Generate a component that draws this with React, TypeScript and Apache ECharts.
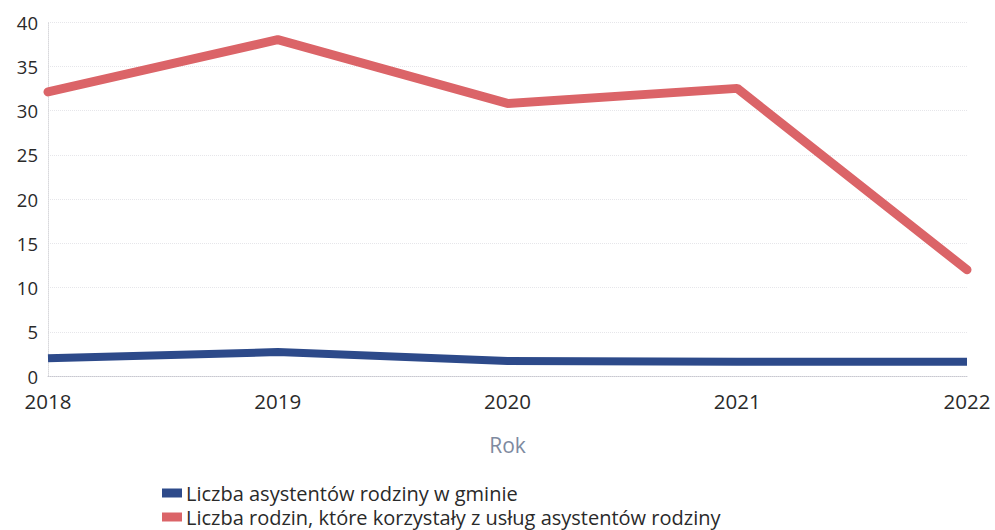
import React, { useEffect, useRef } from "react";
import * as echarts from "echarts";

const years = ["2018", "2019", "2020", "2021", "2022"];
const assistants = [2, 2.7, 1.7, 1.6, 1.6];
const families = [32.1, 38, 30.8, 32.5, 12];
const seriesNames = [
  "Liczba asystentów rodziny w gminie",
  "Liczba rodzin, które korzystały z usług asystentów rodziny",
];

export default function App() {
  const ref = useRef<HTMLDivElement>(null);
  useEffect(() => {
    if (!ref.current) return;
    const chart = echarts.init(ref.current, null, { renderer: "svg" });
    const font = "'Open Sans', 'Noto Sans', sans-serif";
    const legendBase = {
      orient: "horizontal",
      left: 162,
      padding: 0,
      itemWidth: 20,
      itemHeight: 9,
      itemGap: 4,
      icon: "rect",
      textStyle: { fontFamily: font, fontSize: 20, lineHeight: 22, color: "#2a2a2a", padding: [0, 0, 0, -1] },
    };
    chart.setOption({
      animation: false,
      backgroundColor: "#ffffff",
      textStyle: { fontFamily: font },
      grid: { left: 48, right: 28, top: 22, bottom: 154 },
      legend: [
        { ...legendBase, top: 482, data: [seriesNames[0]] },
        { ...legendBase, top: 506, data: [seriesNames[1]] },
      ],
      xAxis: {
        type: "category",
        data: years,
        boundaryGap: false,
        name: "Rok",
        nameLocation: "middle",
        nameGap: 58,
        nameTextStyle: { fontFamily: font, fontSize: 21, color: "#7e8aa0" },
        axisLine: { show: true, lineStyle: { color: "#c8c8d0", type: "dotted", width: 1 } },
        axisTick: { show: false },
        axisLabel: { fontFamily: font, fontSize: 20.5, color: "#2a2a2a", margin: 14 },
        splitLine: { show: false },
      },
      yAxis: {
        type: "value",
        min: 0,
        max: 40,
        interval: 5,
        axisLine: { show: true, lineStyle: { color: "#d8d8dc", type: "dotted", width: 1 } },
        axisTick: { show: false },
        axisLabel: { fontFamily: font, fontSize: 18.5, color: "#2a2a2a", margin: 10 },
        splitLine: { show: true, lineStyle: { color: "#e6e6ea", type: "dotted", width: 1 } },
      },
      series: [
        {
          name: seriesNames[0],
          type: "line",
          data: assistants,
          showSymbol: false,
          symbol: "none",
          itemStyle: { color: "#2d4a8a" },
          lineStyle: { color: "#2d4a8a", width: 8 },
        },
        {
          name: seriesNames[1],
          type: "line",
          data: families,
          showSymbol: false,
          symbol: "none",
          itemStyle: { color: "#db6468" },
          lineStyle: { color: "#db6468", width: 9, cap: "round" },
        },
      ],
    });
    return () => chart.dispose();
  }, []);
  return <div ref={ref} style={{ width: 995, height: 530, position: "absolute", left: 0, top: 0 }} />;
}
